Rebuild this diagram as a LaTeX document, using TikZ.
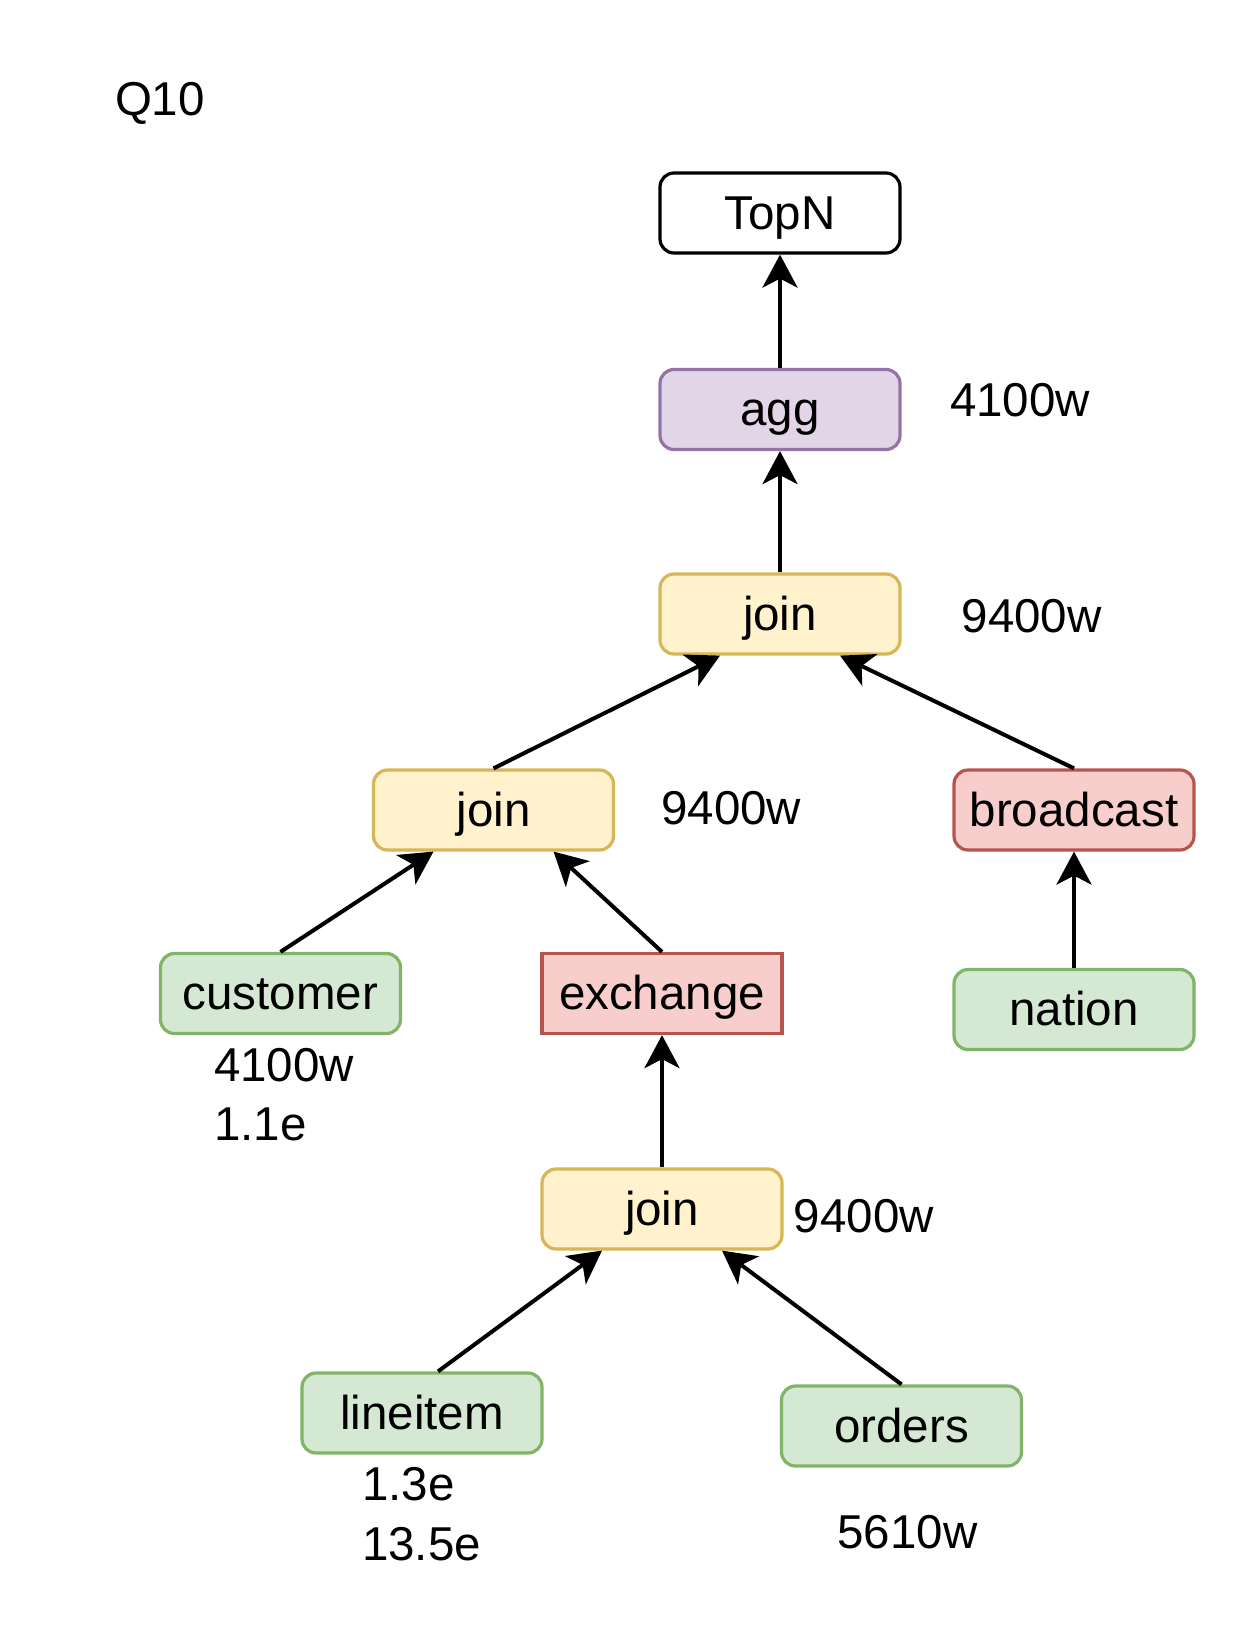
\documentclass[tikz,border=0pt]{standalone}
\usepackage{fontspec}
\setmainfont{Liberation Sans}
\usetikzlibrary{arrows.meta,positioning}
\definecolor{joinfill}{HTML}{FFF2CC}
\definecolor{joinline}{HTML}{D6B656}
\definecolor{aggfill}{HTML}{E1D5E7}
\definecolor{aggline}{HTML}{9673A6}
\definecolor{movefill}{HTML}{F8CECC}
\definecolor{moveline}{HTML}{B85450}
\definecolor{scanfill}{HTML}{D5E8D4}
\definecolor{scanline}{HTML}{82B366}
\newcommand{\planfont}{\fontsize{23.75pt}{28.5pt}\selectfont}

\begin{document}
\begin{tikzpicture}[->,>={Stealth[length=16.5pt,width=17.5pt,inset=4.5pt]},line width=2pt,
      op node/.style={draw,line width=1.6pt,rounded corners=7pt,minimum width=120pt,minimum height=40pt,
        inner sep=0pt,on grid,font=\planfont,text height=21.4pt,text depth=5pt},
      join node/.style={op node,fill=joinfill,draw=joinline},
      agg node/.style={op node,fill=aggfill,draw=aggline},
      move node/.style={op node,fill=movefill,draw=moveline},
      scan node/.style={op node,fill=scanfill,draw=scanline},
      stat/.style={inner sep=0pt,anchor=base west,font=\planfont}]
      \useasboundingbox (0,0) rectangle (618pt,-818pt);
      \node[join node] (joinTop) at (390pt,-307pt) {join};
      \node[agg node] (agg) [above=102.25pt of joinTop] {agg};
      \node[op node,fill=white,draw=black] (topn) [above=98.25pt of agg] {TopN};
      \node[join node] (joinMid) [below left=98pt and 143.25pt of joinTop] {join};
      \node[move node] (broadcast) [below right=98pt and 147pt of joinTop] {broadcast};
      \node[scan node] (customer) [below left=91.75pt and 106.5pt of joinMid] {customer};
      \node[move node,sharp corners] (exchange) [below right=91.75pt and 84.25pt of joinMid] {exchange};
      \node[scan node] (nation) [below=99.75pt of broadcast] {nation};
      \node[join node] (joinLow) [below=107.75pt of exchange] {join};
      \node[scan node] (lineitem) [below left=102pt and 120pt of joinLow] {lineitem};
      \node[scan node] (orders) [below right=108.5pt and 119.75pt of joinLow] {orders};

      % row counts
      \node[stat] (title) at (56.5pt,-58pt) {Q10};
      \node[stat] (aggRows) at (474pt,-208.25pt) {4100w};
      \node[stat] (joinTopRows) at (479.85pt,-316.25pt) {9400w};
      \node[stat] (joinMidRows) at (329.65pt,-412.25pt) {9400w};
      \node[stat] (customerRows) at (106pt,-540.5pt) {4100w};
      \node[stat] (customerSize) at (106pt,-570pt) {1.1e};
      \node[stat] (joinLowRows) at (395.9pt,-616pt) {9400w};
      \node[stat] (lineitemRows) at (180pt,-750pt) {1.3e};
      \node[stat] (lineitemSize) at (180pt,-780.35pt) {13.5e};
      \node[stat] (ordersRows) at (417.75pt,-774pt) {5610w};

      \path[->]
        (agg.north) edge (topn.south)
        (joinTop.north) edge (agg.south)
        (joinMid.north) edge ([xshift=-30pt]joinTop.south)
        (broadcast.north) edge ([xshift=30pt]joinTop.south)
        (customer.north) edge ([xshift=-30pt]joinMid.south)
        (exchange.north) edge ([xshift=30pt]joinMid.south)
        (nation.north) edge (broadcast.south)
        (joinLow.north) edge (exchange.south)
        ([xshift=8pt]lineitem.north) edge ([xshift=-30pt]joinLow.south)
        (orders.north) edge ([xshift=30pt]joinLow.south);
    \end{tikzpicture}
\end{document}
